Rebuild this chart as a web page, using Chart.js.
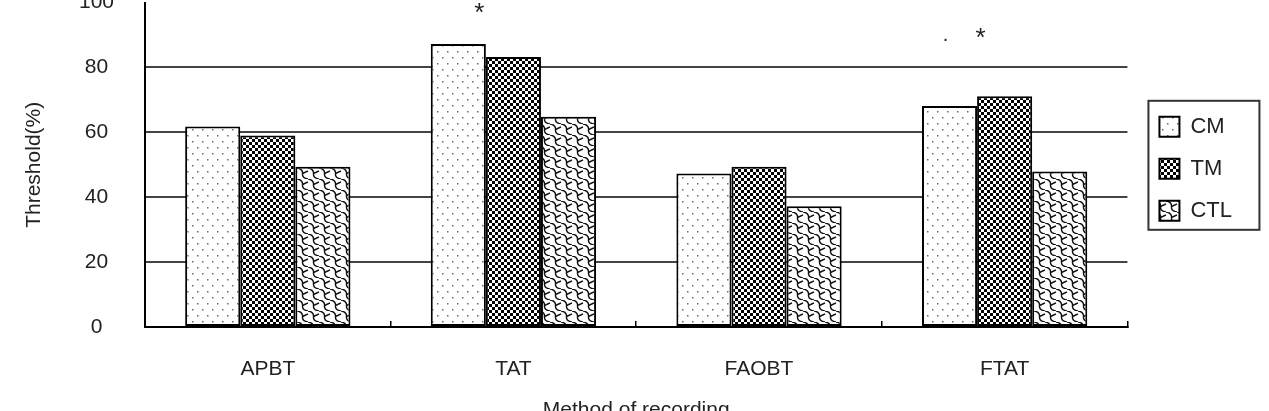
<!DOCTYPE html>
<html>
<head>
<meta charset="utf-8">
<script src="https://cdn.jsdelivr.net/npm/chart.js@4.4.1/dist/chart.umd.min.js"></script>
<style>
    html, body { margin: 0; padding: 0; background: #fff; overflow: hidden; }
    #wrap { position: absolute; left: 0; top: -41px; width: 1269px; height: 471px; }
</style>
</head>
<body>
<div id="wrap"><canvas id="chart"></canvas></div>
<script>

const categories = ["APBT", "TAT", "FAOBT", "FTAT"];
const seriesNames = ["CM", "TM", "CTL"];
const cmValues = [61.8, 87.2, 47.3, 68.1];
const tmValues = [59.0, 83.2, 49.4, 71.1];
const ctlValues = [49.4, 64.8, 37.2, 47.9];
const yTicks = [0, 20, 40, 60, 80, 100];

// significance marks above the bars
const markCategories = ["TAT", "FTAT", "FTAT"];
const markValues = [98.2, 90.3, 88.5];
const markTexts = ["*", "*", "."];

const FONT = "'Liberation Sans', Arial, sans-serif";

function makePattern(w, h, draw) {
    const c = document.createElement("canvas");
    c.width = w;
    c.height = h;
    const g = c.getContext("2d");
    g.fillStyle = "#fff";
    g.fillRect(0, 0, w, h);
    draw(g);
    return g.createPattern(c, "repeat");
}

const dotPattern = makePattern(10, 12, g => {
    g.fillStyle = "#6a6a6a";
    g.fillRect(2, 2, 1.5, 1.5);
    g.fillRect(7, 8, 1.5, 1.5);
});

const checkPattern = makePattern(6, 6, g => {
    g.fillStyle = "#000";
    g.fillRect(0, 0, 3, 3);
    g.fillRect(3, 3, 3, 3);
});

const wavePattern = makePattern(11, 11, g => {
    g.strokeStyle = "#111";
    g.lineWidth = 1.4;
    for (const dx of [-11, 0, 11]) {
        g.beginPath();
        g.moveTo(dx + 0, 0);
        g.quadraticCurveTo(dx + 6, 1, dx + 5.5, 5.5);
        g.quadraticCurveTo(dx + 5, 10, dx + 11, 11);
        g.stroke();
        g.beginPath();
        g.moveTo(dx + 5.5, 5.5);
        g.lineTo(dx + 11, 3);
        g.stroke();
    }
});

const markPlugin = {
    id: "marks",
    afterDatasetsDraw(chart) {
        const ctx = chart.ctx;
        const x = chart.scales.x;
        const y = chart.scales.y;
        const shift = [-34, -24, -59];
        ctx.save();
        ctx.fillStyle = "#222";
        ctx.textAlign = "center";
        ctx.textBaseline = "middle";
        markTexts.forEach((t, i) => {
            const px = x.getPixelForValue(categories.indexOf(markCategories[i])) + shift[i];
            const py = y.getPixelForValue(markValues[i]);
            ctx.font = (t === "*" ? "26px " : "20px ") + FONT;
            ctx.fillText(t, px, py + (t === "*" ? 5 : -4));
        });
        ctx.restore();
    }
};

// legend column: a bit wider, then nudged right/down like the original
const legendPlacePlugin = {
    id: "legendPlace",
    beforeLayout(chart) {
        const lg = chart.legend;
        if (lg && !lg._wide) {
            const fit = lg.fit;
            lg.fit = function () {
                fit.call(this);
                this.width += 20;
            };
            lg._wide = true;
        }
    },
    afterLayout(chart) {
        const lg = chart.legend;
        lg.left += 12;
        lg.right += 12;
        lg.top += 4;
        lg.bottom += 4;
    }
};

const legendBoxPlugin = {
    id: "legendBox",
    afterDraw(chart) {
        const boxes = chart.legend.legendHitBoxes;
        if (!boxes || !boxes.length) return;
        const first = boxes[0];
        const last = boxes[boxes.length - 1];
        const ctx = chart.ctx;
        ctx.save();
        ctx.strokeStyle = "#333";
        ctx.lineWidth = 2;
        ctx.strokeRect(first.left - 11, first.top - 15, 111, last.top + 20 - first.top + 25);
        ctx.restore();
    }
};

const canvas = document.getElementById("chart");

new Chart(canvas.getContext("2d"), {
    type: "bar",
    data: {
        labels: categories,
        datasets: [
            { label: seriesNames[0], data: cmValues, backgroundColor: dotPattern },
            { label: seriesNames[1], data: tmValues, backgroundColor: checkPattern },
            { label: seriesNames[2], data: ctlValues, backgroundColor: wavePattern }
        ]
    },
    options: {
        responsive: true,
        maintainAspectRatio: false,
        animation: false,
        layout: {
            padding: { top: 8, right: 19, bottom: 3, left: 0 }
        },
        datasets: {
            bar: {
                borderColor: "#000",
                borderWidth: 2,
                borderSkipped: false,
                categoryPercentage: 0.673,
                barPercentage: 1
            }
        },
        scales: {
            x: {
                afterFit(scale) { scale.height = 100; },
                border: { color: "#000", width: 2 },
                grid: {
                    drawOnChartArea: false,
                    color: "#000",
                    lineWidth: 1.5,
                    tickLength: -6
                },
                ticks: {
                    color: "#222",
                    padding: 36,
                    font: { family: FONT, size: 21 }
                },
                title: {
                    display: true,
                    text: "Method of recording",
                    color: "#222",
                    padding: { top: 0, bottom: 4 },
                    font: { family: FONT, size: 21 }
                }
            },
            y: {
                min: 0,
                max: 100,
                afterFit(scale) { scale.width = 145; },
                afterBuildTicks(scale) {
                    scale.ticks = yTicks.map(v => ({ value: v }));
                },
                border: { color: "#000", width: 2 },
                grid: {
                    drawTicks: false,
                    lineWidth: 2,
                    color: c => c.tick && c.tick.value === 100 ? "rgba(0,0,0,0)" : "#444"
                },
                ticks: {
                    color: "#222",
                    crossAlign: "center",
                    padding: 31,
                    font: { family: FONT, size: 21 }
                },
                title: {
                    display: true,
                    text: "Threshold(%)",
                    color: "#222",
                    padding: { top: 22, bottom: 0 },
                    font: { family: FONT, size: 21 }
                }
            }
        },
        plugins: {
            legend: {
                position: "right",
                fullSize: false,
                labels: {
                    boxWidth: 20,
                    boxHeight: 20,
                    padding: 20,
                    color: "#222",
                    font: { family: FONT, size: 22 }
                }
            },
            tooltip: { enabled: false }
        }
    },
    plugins: [legendPlacePlugin, markPlugin, legendBoxPlugin]
});

</script>
</body>
</html>
